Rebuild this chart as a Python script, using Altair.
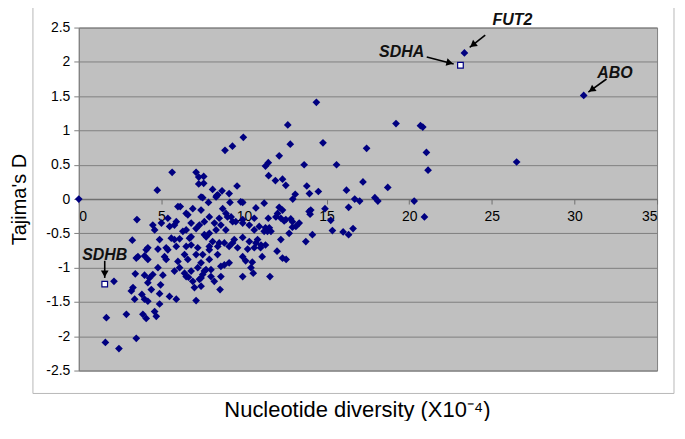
import math
import altair as alt
import pandas as pd

# ---- data (Nucleotide diversity x10^-4, Tajima's D) ----
x_vals = [
    0, 4.75, 5.65, 7.1, 7.26, 7.56, 7.26, 7.56, 7.5, 8.1, 8.35, 8.67, 9.1, 8.85, 9.3, 9.58, 9.96,
    11.3, 11.47, 11.49, 11.9, 12.13, 12.33, 12.53, 12.65, 12.8, 13.1, 12.95, 13.64, 13.8, 13.96,
    14.38, 14.5, 14.78, 15.6, 16.2, 16.7, 17.0, 17.2, 17.42, 17.92, 18.1, 18.7, 19.2, 20.3,
    20.68, 20.82, 21.04, 21.14, 20.92, 26.5, 30.56, 23.34,
    16.33, 16.0, 16.33, 16.6,
    8.31, 7.4, 8.41, 7.85, 9.15, 8.71, 9.8, 6.14, 6.6, 7.4, 7.3, 7.6, 7.1, 5.39, 5.79, 5.9,
    3.52, 4.48, 4.59, 5.0, 6.3, 5.6, 6.1, 6.8, 7.6, 7.9, 8.31, 8.6, 8.9, 8.5, 9.0, 3.24, 4.89,
    4.18, 4.79, 5.29, 5.9, 6.8, 7.2, 7.9, 8.5, 9.1, 3.58, 5.19, 6.4,
    7.9, 8.21, 8.91, 9.22, 9.31, 9.92, 10.32, 10.62, 10.92, 11.22, 10.72, 11.03, 7.71, 8.1,
    8.41, 8.81, 9.31, 7.9, 7.5, 12.03, 12.53, 12.93, 13.34, 11.53, 11.42, 13.14, 13.94, 13.74,
    14.14,
    9.92, 10.72, 11.22, 12.13, 12.33, 14.04, 14.0, 14.9, 11.47, 11.93, 12.23, 12.43, 12.83,
    12.93, 15.25, 15.35, 10.62, 9.92, 9.5, 11.3, 11.63, 12.73, 12.23, 9.92, 10.32, 10.82, 9.41,
    9.61, 10.22, 10.62, 11.0, 11.3, 12.0, 9.92, 11.1, 12.33, 12.55,
    10.1, 10.5, 10.42, 10.56, 9.92, 11.57,
    8.55, 8.2, 8.0, 8.6, 7.5, 7.7, 8.81, 9.1, 8.4, 7.9, 7.4, 7.3, 7.4,
    2.13, 3.48, 3.98, 3.42, 3.98, 4.28, 4.18, 4.48, 4.79, 5.09, 4.95, 4.39, 3.28, 3.18, 3.82,
    3.38, 3.98, 4.18, 4.89, 4.89, 5.49, 5.9, 7.1, 2.88, 1.67, 3.88, 4.08, 4.59, 4.69, 1.61,
    2.43, 3.48, 5.79, 6.1, 6.4, 6.64, 6.9, 7.0, 7.4, 8.0, 8.6, 6.8, 7.2, 7.6,
    6.0, 6.5, 6.9, 6.8, 6.5, 5.5, 5.79, 6.7, 6.5, 5.39, 7.1, 6.6, 6.0, 5.29, 4.08, 4.18, 6.5,
]
y_vals = [
    0, 0.13, 0.39, 0.39, 0.32, 0.33, 0.22, 0.23, 0.02, 0.14, 0.05, 0.12, 0.08, 0.71, 0.77, 0.19, 0.90,
    0.48, 0.53, 0.34, 0.27, 0.63, 0.29, 0.20, 1.08, 0.80, 0.07, 0.0, 0.50, 0.19, 0.08,
    1.41, 0.11, 0.82, 0.50, 0.13, 0.0, -0.03, 0.25, 0.74, 0.02, -0.03, 0.17, 1.10, -0.03,
    1.07, 1.05, 0.68, 0.42, -0.26, 0.54, 1.51, 2.13,
    -0.12, -0.48, -0.52, -0.43,
    0.03, 0.03, 0.06, -0.05, -0.05, -0.14, -0.04, -0.11, -0.23, -0.16, -0.38, -0.33, -0.43, -0.28, -0.38, -0.33,
    -0.30, -0.38, -0.45, -0.35, -0.47, -0.57, -0.58, -0.55, -0.52, -0.50, -0.45, -0.38, -0.45, -0.28, -0.26, -0.60, -0.59,
    -0.71, -0.73, -0.71, -0.69, -0.67, -0.71, -0.69, -0.64, -0.69, -0.84, -0.84, -0.81,
    -0.26, -0.35, -0.21, -0.26, -0.33, -0.35, -0.38, -0.45, -0.40, -0.47, -0.64, -0.67, -0.55, -0.62,
    -0.69, -0.64, -0.64, -0.74, -0.81, -0.21, -0.30, -0.33, -0.35, -0.42, -0.47, -0.40, -0.18, -0.62,
    -0.52,
    -0.05, -0.13, -0.06, -0.12, -0.16, -0.16, -0.22, -0.14, -0.28, -0.26, -0.28, -0.32, -0.29,
    -0.41, -0.31, -0.46, -0.28, -0.30, -0.33, -0.42, -0.47, -0.50, -0.59, -0.56, -0.62, -0.59, -0.59,
    -0.71, -0.73, -0.71, -0.71, -0.67, -0.76, -0.84, -0.84, -0.86, -0.88,
    -0.90, -0.92, -1.00, -1.08, -1.13, -1.13,
    -1.32, -1.20, -1.13, -1.13, -1.10, -1.03, -0.96, -0.93, -0.81, -0.88, -0.93, -1.17, -1.27,
    -1.20, -0.86, -0.83, -1.09, -1.11, -1.15, -1.22, -1.10, -1.00, -1.11, -1.25, -1.32, -1.29, -1.34, -1.39,
    -1.46, -1.46, -1.49, -1.38, -1.53, -1.42, -1.46, -1.48, -1.68, -1.73, -1.68, -1.74, -1.64, -1.71, -2.09,
    -2.18, -2.03, -1.05, -1.00, -1.08, -1.14, -1.20, -1.29, -1.15, -1.03, -0.98, -1.05, -1.00, -1.05,
    -0.11, -0.21, -0.14, -0.35, -0.45, -0.40, -0.59, -0.57, -0.69, -0.74, -0.81, -0.88, -0.91, -0.88, -0.74, -0.88, -1.13,
]

# highlighted genes drawn as open squares
special_names = ["SDHA", "SDHB"]
special_x = [23.1, 1.57]
special_y = [1.95, -1.24]

# annotation labels and arrows (data units)
label_names = ["FUT2", "SDHA", "ABO", "SDHB"]
label_x = [26.25, 19.54, 32.45, 1.57]
label_y = [2.61, 2.15, 1.84, -0.81]
arrow_x_from = [24.6, 21.06, 31.94, 1.57]
arrow_y_from = [2.39, 2.07, 1.75, -0.90]
arrow_x_to = [23.66, 22.69, 30.84, 1.57]
arrow_y_to = [2.21, 1.97, 1.56, -1.15]

x_ticks = [0, 5, 10, 15, 20, 25, 30, 35]
y_ticks = [-2.5, -2, -1.5, -1, -0.5, 0, 0.5, 1, 1.5, 2, 2.5]

W, H = 580, 344
X_DOM = [0, 35]
Y_DOM = [-2.5, 2.5]
FONT = "Liberation Sans"

xscale = alt.Scale(domain=X_DOM, nice=False, zero=False)
yscale = alt.Scale(domain=Y_DOM, nice=False, zero=False)

pts = pd.DataFrame({"x": x_vals, "y": y_vals})
spec = pd.DataFrame({"name": special_names, "x": special_x, "y": special_y})
labels = pd.DataFrame({"name": label_names, "x": label_x, "y": label_y})

# arrow heads: angle from direction in screen space
px_x = W / (X_DOM[1] - X_DOM[0])
px_y = H / (Y_DOM[1] - Y_DOM[0])
head_rows = []
for xf, yf, xt, yt in zip(arrow_x_from, arrow_y_from, arrow_x_to, arrow_y_to):
    dx = (xt - xf) * px_x
    dy = -(yt - yf) * px_y
    ln = math.hypot(dx, dy)
    ang = math.degrees(math.atan2(dx, -dy)) % 360
    back = 4.0
    hx = xt - (dx / ln) * back / px_x
    hy = yt + (dy / ln) * back / px_y
    head_rows.append({"x": hx, "y": hy, "angle": ang})
arrows = pd.DataFrame({"x": arrow_x_from, "y": arrow_y_from, "x2": arrow_x_to, "y2": arrow_y_to})
heads = pd.DataFrame(head_rows)

x_axis = alt.Axis(
    values=x_ticks, tickCount=len(x_ticks), grid=False, offset=-172, domainColor="#707070",
    domainWidth=1.5, tickColor="#707070", tickSize=5, labelPadding=6, labelFont=FONT,
    labelFontSize=14, labelColor="black", labelOverlap=False,
    title="Nucleotide diversity (X10⁻⁴)", titleFont=FONT,
    titleFontSize=22, titleFontWeight="normal", titleColor="black",
    titleX=279, titleY=211, titleBaseline="middle", titleAlign="center",
)
y_axis = alt.Axis(
    values=y_ticks, tickCount=len(y_ticks), grid=True, gridColor="#808080", gridWidth=1,
    domainColor="#808080", tickColor="#808080", tickSize=5, labelPadding=4, labelFont=FONT,
    labelFontSize=14, labelColor="black", labelOverlap=False,
    labelExpr="toString(datum.value)", title="Tajima's D",
    titleFont=FONT, titleFontSize=20, titleFontWeight="normal", titleColor="black",
    titleX=-59, titleY=172, titleAngle=270, titleAlign="center", titleBaseline="middle",
)

frame = alt.Chart(pd.DataFrame({"a": [0]})).mark_rect(
    fill="white", fillOpacity=0, stroke="#b8b8b8", strokeWidth=1
).encode(x=alt.value(-46), x2=alt.value(597), y=alt.value(-22), y2=alt.value(367))

points = alt.Chart(pts).mark_point(
    shape="diamond", filled=True, color="#000080", size=60, opacity=1
).encode(
    x=alt.X("x:Q", scale=xscale, axis=x_axis),
    y=alt.Y("y:Q", scale=yscale, axis=y_axis),
)

squares = alt.Chart(spec).mark_point(
    shape="square", filled=True, fill="white", stroke="#000080", strokeWidth=1.2, size=32, opacity=1
).encode(x=alt.X("x:Q", scale=xscale), y=alt.Y("y:Q", scale=yscale))

shafts = alt.Chart(arrows).mark_rule(color="black", strokeWidth=1.6).encode(
    x=alt.X("x:Q", scale=xscale), y=alt.Y("y:Q", scale=yscale), x2="x2:Q", y2="y2:Q"
)

arrowheads = alt.Chart(heads).mark_point(
    shape="triangle-up", filled=True, color="black", size=60, opacity=1
).encode(
    x=alt.X("x:Q", scale=xscale), y=alt.Y("y:Q", scale=yscale), angle=alt.Angle("angle:Q", scale=None)
)

texts = alt.Chart(labels).mark_text(
    font=FONT, fontSize=16, fontWeight="bold", fontStyle="italic", color="#111111"
).encode(x=alt.X("x:Q", scale=xscale), y=alt.Y("y:Q", scale=yscale), text="name:N")

chart = alt.layer(frame, points, squares, shafts, arrowheads, texts).properties(
    width=W, height=H,
    autosize=alt.AutoSizeParams(type="none"),
    padding={"left": 71, "top": 19, "right": 20, "bottom": 50},
    background="white",
).configure_view(fill="#c0c0c0", stroke="#808080", strokeWidth=1)

chart.save("out.html", embed_options={"renderer": "svg", "actions": False})
